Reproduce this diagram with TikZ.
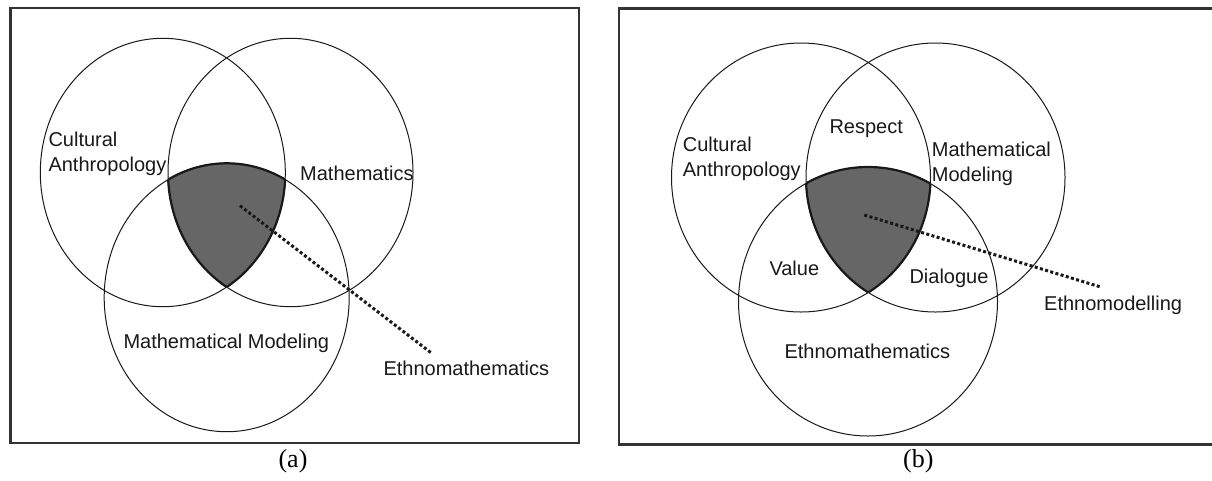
\documentclass[tikz,border=0pt]{standalone}
\usepackage{fontspec}
\setmainfont{Liberation Sans}
\newfontfamily\capfont{Liberation Serif}
\begin{document}
\begin{tikzpicture}[x=1pt,y=-1pt,
  circ/.style={draw=black!90, line width=1pt},
  rim/.style={draw=black!90, line width=2.2pt},
  shadefill/.style={fill=black!60},
  framebox/.style={draw=black!80, line width=2.6pt},
  lbl/.style={anchor=base west, inner sep=0pt, font=\fontsize{20}{24.5}\selectfont, text=black!90},
  caplbl/.style={anchor=base, inner sep=0pt, font=\capfont\fontsize{26}{30}\selectfont},
  dotline/.style={line width=3pt, dash pattern=on 3pt off 2.4pt, draw=black!90}]
\useasboundingbox (0,0) rectangle (1212,480);
\fill[white] (0,0) rectangle (1212,480);

% ---------------- panel (a) ----------------
\def\arx{122.5pt}\def\ary{134.2pt}
\coordinate (aL) at (162.8,172.5);
\coordinate (aR) at (290.5,172.5);
\coordinate (aB) at (226.7,297.5);
\begin{scope}
  \clip (aL) ellipse [x radius=\arx, y radius=\ary];
  \clip (aR) ellipse [x radius=\arx, y radius=\ary];
  \fill[shadefill] (aB) ellipse [x radius=\arx, y radius=\ary];
\end{scope}
\begin{scope}
  \clip (aL) ellipse [x radius=\arx, y radius=\ary];
  \clip (aR) ellipse [x radius=\arx, y radius=\ary];
  \draw[rim] (aB) ellipse [x radius=\arx, y radius=\ary];
\end{scope}
\begin{scope}
  \clip (aL) ellipse [x radius=\arx, y radius=\ary];
  \clip (aB) ellipse [x radius=\arx, y radius=\ary];
  \draw[rim] (aR) ellipse [x radius=\arx, y radius=\ary];
\end{scope}
\begin{scope}
  \clip (aR) ellipse [x radius=\arx, y radius=\ary];
  \clip (aB) ellipse [x radius=\arx, y radius=\ary];
  \draw[rim] (aL) ellipse [x radius=\arx, y radius=\ary];
\end{scope}
\draw[circ] (aL) ellipse [x radius=\arx, y radius=\ary];
\draw[circ] (aR) ellipse [x radius=\arx, y radius=\ary];
\draw[circ] (aB) ellipse [x radius=\arx, y radius=\ary];

\coordinate (aDs) at (240,205.7);
\coordinate (aDe) at (431.7,353.3);
\draw[dotline] (aDs) -- (aDe);

\node[lbl] (aCA) at (48.3,146.7) {\begin{tabular}[t]{@{}l@{}}Cultural\\Anthropology\end{tabular}};
\node[lbl] (aMa) at (300,180) {Mathematics};
\node[lbl] (aMM) at (123.3,348.3) {Mathematical Modeling};
\node[lbl] (aEt) at (383.3,375) {Ethnomathematics};

\draw[framebox] (10.3,8) rectangle (579,443);
\node[caplbl] (capa) at (293,467) {(a)};

% ---------------- panel (b) ----------------
\def\brx{129.5pt}\def\bry{134.5pt}
\coordinate (bL) at (801,177.5);
\coordinate (bR) at (935.5,177.5);
\coordinate (bB) at (868,301.5);
\begin{scope}
  \clip (bL) ellipse [x radius=\brx, y radius=\bry];
  \clip (bR) ellipse [x radius=\brx, y radius=\bry];
  \fill[shadefill] (bB) ellipse [x radius=\brx, y radius=\bry];
\end{scope}
\begin{scope}
  \clip (bL) ellipse [x radius=\brx, y radius=\bry];
  \clip (bR) ellipse [x radius=\brx, y radius=\bry];
  \draw[rim] (bB) ellipse [x radius=\brx, y radius=\bry];
\end{scope}
\begin{scope}
  \clip (bL) ellipse [x radius=\brx, y radius=\bry];
  \clip (bB) ellipse [x radius=\brx, y radius=\bry];
  \draw[rim] (bR) ellipse [x radius=\brx, y radius=\bry];
\end{scope}
\begin{scope}
  \clip (bR) ellipse [x radius=\brx, y radius=\bry];
  \clip (bB) ellipse [x radius=\brx, y radius=\bry];
  \draw[rim] (bL) ellipse [x radius=\brx, y radius=\bry];
\end{scope}
\draw[circ] (bL) ellipse [x radius=\brx, y radius=\bry];
\draw[circ] (bR) ellipse [x radius=\brx, y radius=\bry];
\draw[circ] (bB) ellipse [x radius=\brx, y radius=\bry];

\coordinate (bDs) at (864.3,215);
\coordinate (bDe) at (1101.7,287.3);
\draw[dotline] (bDs) -- (bDe);

\node[lbl] (bCA) at (682.7,151.7) {\begin{tabular}[t]{@{}l@{}}Cultural\\Anthropology\end{tabular}};
\node[lbl] (bRe) at (829.3,133.3) {Respect};
\node[lbl] (bMM) at (931.7,156.7) {\begin{tabular}[t]{@{}l@{}}Mathematical\\Modeling\end{tabular}};
\node[lbl] (bVa) at (769.3,275) {Value};
\node[lbl] (bDi) at (909.3,283.3) {Dialogue};
\node[lbl] (bEt) at (784.3,358.3) {Ethnomathematics};
\node[lbl] (bEm) at (1044,310) {Ethnomodelling};

\draw[framebox] (619,8.7) rectangle (1216,444.7);
\node[caplbl] (capb) at (918.3,467) {(b)};
\end{tikzpicture}
\end{document}
